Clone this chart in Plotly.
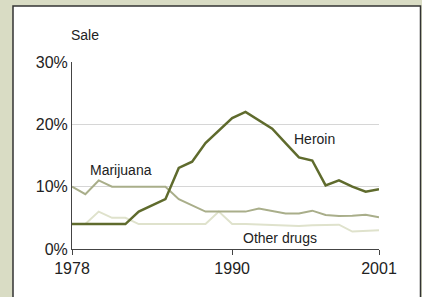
import plotly.graph_objects as go

years = list(range(1978, 2002))
heroin = [4, 4, 4, 4, 4, 6, 7, 8, 13, 14, 17, 19, 21, 22, 20.7, 19.3, 17, 14.7, 14.2, 10.2, 11, 10, 9.2, 9.6]
marijuana = [10, 8.8, 11, 10, 10, 10, 10, 10, 8, 7, 6, 6, 6, 6, 6.5, 6.15, 5.7, 5.7, 6.15, 5.45, 5.3, 5.35, 5.5, 5.1]
other = [4, 4, 6, 5, 5, 4, 4, 4, 4, 4, 4, 6, 4, 4, 3.9, 3.8, 3.7, 3.7, 3.8, 3.9, 3.9, 2.8, 2.9, 3.0]
tick_years = [1978, 1990, 2001]
tick_vals = [0, 10, 20, 30]
tick_text = ["0%", "10%", "20%", "30%"]

FONT = "Liberation Sans, Arial, sans-serif"
BG = "#d9dcc4"

fig = go.Figure()
fig.add_trace(go.Scatter(x=years, y=other, mode="lines",
                         line=dict(color="#dfe2cc", width=2), hoverinfo="skip"))
fig.add_trace(go.Scatter(x=years, y=marijuana, mode="lines",
                         line=dict(color="#a9ae8a", width=2), hoverinfo="skip"))
fig.add_trace(go.Scatter(x=years, y=heroin, mode="lines",
                         line=dict(color="#5f6b2d", width=2.5), hoverinfo="skip"))

fig.update_layout(
    width=422, height=297,
    margin=dict(l=72, r=43, t=62, b=48),
    paper_bgcolor=BG,
    plot_bgcolor="white",
    showlegend=False,
    font=dict(family=FONT, color="#222222"),
    shapes=[dict(type="rect", xref="paper", yref="paper",
                 x0=-59/307, x1=348.5/307, y0=-60/187, y1=1 + 56/187,
                 fillcolor="white", line=dict(color="#333333", width=1.5),
                 layer="below")],
    annotations=[
        dict(text="Sale", x=-3/307, y=1 + 27/187, xref="paper", yref="paper",
             xanchor="left", yanchor="middle", showarrow=False,
             font=dict(size=14)),
        dict(text="Marijuana", x=1981.7, y=12.7, showarrow=False,
             font=dict(size=14)),
        dict(text="Heroin", x=1996.2, y=17.6, showarrow=False,
             font=dict(size=14)),
        dict(text="Other drugs", x=1993.6, y=1.8, showarrow=False,
             font=dict(size=14)),
    ],
)
fig.update_xaxes(range=[1978, 2001], tickvals=tick_years, showgrid=False,
                 showline=True, linecolor="#444444", linewidth=1,
                 ticks="outside", ticklen=5, tickcolor="#444444",
                 tickfont=dict(size=16, family=FONT, color="#222222"),
                 zeroline=False, fixedrange=True)
fig.update_yaxes(range=[0, 30], tickvals=tick_vals, ticktext=tick_text,
                 showgrid=True, gridcolor="#d6d6d6", gridwidth=1,
                 showline=True, linecolor="#444444", linewidth=1,
                 ticks="", ticklen=3, tickcolor="#444444",
                 tickfont=dict(size=16, family=FONT, color="#222222"),
                 zeroline=False, fixedrange=True)

fig.write_html("out.html", config={"displayModeBar": False},
               post_script="document.documentElement.style.overflow='hidden';"
                           "document.body.style.margin='0';"
                           "document.body.style.overflow='hidden';"
                           "document.body.style.background='" + BG + "';")
